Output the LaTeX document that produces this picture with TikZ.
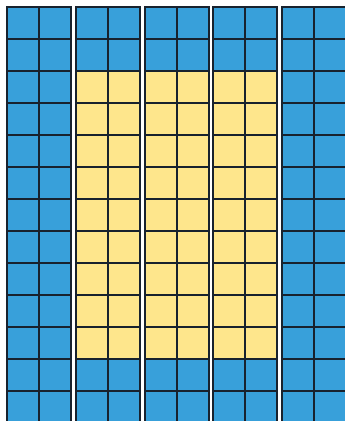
\documentclass[tikz,border=0pt]{standalone}
\usepackage{xcolor}
\usepackage{tikz}
\definecolor{cellblue}{RGB}{56,160,218}
\definecolor{cellyellow}{RGB}{254,230,140}
\definecolor{gridline}{RGB}{24,34,46}

\begin{document}
\begin{tikzpicture}[x=1pt, y=-1pt, line width=2pt, line cap=rect]
    \useasboundingbox (0,0) rectangle (345,421);
    \clip (0,0) rectangle (345,421);
    % 1. Tô nền các dải
    \foreach \s in {0,...,4} {
        \pgfmathsetmacro{\xl}{round(7+68.75*\s)}
        \fill[cellblue] (\xl,7) rectangle ++(64,416);
    }
    \foreach \s in {1,2,3} {
        \pgfmathsetmacro{\xl}{round(7+68.75*\s)}
        \fill[cellyellow] (\xl,71) rectangle ++(64,288);
    }
    
    % 2. Kẻ lưới ô vuông
    \foreach \s in {0,...,4} {
        \pgfmathsetmacro{\xl}{round(7+68.75*\s)}
        \foreach \c in {0,1,2} {
            \draw[gridline] (\xl+32*\c,7) -- ++(0,416);
        }
        \foreach \r in {0,...,13} {
            \draw[gridline] (\xl,7+32*\r) -- ++(64,0);
        }
    }
\end{tikzpicture}
\end{document}
